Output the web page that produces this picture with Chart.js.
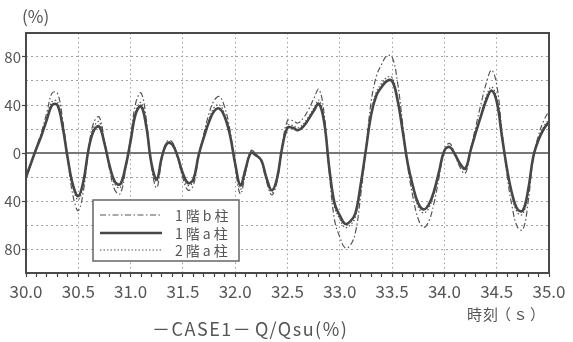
<!DOCTYPE html>
<html>
<head>
<meta charset="utf-8">
<script src="https://cdn.jsdelivr.net/npm/chart.js@4.4.0/dist/chart.umd.min.js"></script>
<style>
  html, body { margin: 0; padding: 0; background: #fff; }
  #wrap { width: 573px; height: 342px; }
</style>
</head>
<body>
<div id="wrap"><canvas id="chart" width="573" height="342"></canvas></div>
<script>
// 時刻 (s)
const times = [
  30.00, 30.05, 30.10, 30.15, 30.20, 30.25, 30.30, 30.35, 30.40, 30.45,
  30.50, 30.55, 30.60, 30.65, 30.70, 30.75, 30.80, 30.85, 30.90, 30.95,
  31.00, 31.05, 31.10, 31.15, 31.20, 31.25, 31.30, 31.35, 31.40, 31.45,
  31.50, 31.55, 31.60, 31.65, 31.70, 31.75, 31.80, 31.85, 31.90, 31.95,
  32.00, 32.05, 32.10, 32.15, 32.20, 32.25, 32.30, 32.35, 32.40, 32.45,
  32.50, 32.55, 32.60, 32.65, 32.70, 32.75, 32.80, 32.85, 32.90, 32.95,
  33.00, 33.05, 33.10, 33.15, 33.20, 33.25, 33.30, 33.35, 33.40, 33.45,
  33.50, 33.55, 33.60, 33.65, 33.70, 33.75, 33.80, 33.85, 33.90, 33.95,
  34.00, 34.05, 34.10, 34.15, 34.20, 34.25, 34.30, 34.35, 34.40, 34.45,
  34.50, 34.55, 34.60, 34.65, 34.70, 34.75, 34.80, 34.85, 34.90, 34.95,
  35.00
];

// 1階b柱 (一点鎖線)
const col1b = [
  -22, -9, 5, 18, 34, 50, 50, 28, -6, -36,
  -48, -31, 5, 26, 30, 10, -14, -31, -34, -15,
  13, 42, 50, 28, -12, -29, -4, 10, 9, -4,
  -21, -31, -27, -3, 16, 33, 44, 47, 38, 19,
  -11, -34, -16, 2, -1, -7, -24, -35, -24, 6,
  27, 27, 25, 29, 36, 45, 53, 33, -17, -56,
  -70, -79, -77, -66, -35, 4, 43, 64, 74, 81,
  80, 60, 25, -12, -37, -55, -62, -57, -42, -20,
  3, 8, -1, -12, -17, 3, 22, 41, 58, 69,
  57, 18, -19, -46, -62, -64, -41, -4, 15, 27,
  35
];

// 1階a柱 (実線)
const col1a = [
  -20, -8, 4, 15, 28, 40, 40, 22, -5, -27,
  -36, -23, 4, 19, 22, 8, -11, -24, -26, -12,
  10, 33, 39, 22, -9, -22, -3, 8, 7, -3,
  -17, -25, -22, -2, 13, 26, 35, 37, 30, 15,
  -9, -27, -13, 0, -2, -6, -21, -31, -21, 5,
  21, 21, 19, 22, 28, 35, 41, 26, -13, -42,
  -52, -59, -57, -50, -26, 3, 32, 48, 55, 60,
  60, 45, 19, -9, -28, -42, -47, -43, -32, -15,
  2, 5, -1, -9, -13, 2, 17, 31, 44, 52,
  43, 14, -14, -35, -47, -48, -31, -3, 11, 20,
  26
];

// 2階a柱 (点線)
const col2a = [
  -21, -8, 4, 16, 30, 43, 43, 24, -5, -29,
  -39, -25, 4, 22, 26, 9, -12, -26, -29, -13,
  11, 35, 42, 24, -10, -24, -3, 9, 8, -3,
  -19, -27, -24, -2, 14, 28, 38, 40, 32, 16,
  -10, -30, -14, 1, -2, -7, -23, -33, -22, 5,
  23, 23, 21, 24, 30, 37, 44, 28, -14, -45,
  -55, -62, -60, -53, -28, 3, 34, 51, 58, 63,
  63, 47, 20, -10, -30, -45, -50, -46, -34, -16,
  2, 5, -1, -10, -14, 2, 18, 33, 47, 55,
  46, 15, -15, -37, -50, -51, -33, -3, 12, 22,
  28
];

const xMajor = [30.0, 30.5, 31.0, 31.5, 32.0, 32.5, 33.0, 33.5, 34.0, 34.5, 35.0];
const yLabels = [80, 40, 0, -40, -80];

const FONT = "'Noto Sans CJK JP', 'Noto Sans', sans-serif";
const INK = '#555';

function pts(vals) {
  return vals.map((v, i) => ({ x: times[i], y: v }));
}
function isMajor(v) {
  return xMajor.some(m => Math.abs(m - v) < 1e-6);
}

const decor = {
  id: 'decor',
  beforeDatasetsDraw(chart) {
    const { ctx, chartArea: a, scales: { y } } = chart;
    const y0 = y.getPixelForValue(0);
    ctx.save();
    ctx.strokeStyle = '#4a4a4a';
    ctx.lineWidth = 1.6;
    ctx.beginPath();
    ctx.moveTo(a.left, y0);
    ctx.lineTo(a.right, y0);
    ctx.stroke();
    ctx.restore();
  },
  afterDraw(chart) {
    const { ctx, chartArea: a } = chart;
    ctx.save();
    // 枠
    ctx.strokeStyle = '#4a4a4a';
    ctx.lineWidth = 2;
    ctx.strokeRect(a.left, a.top, a.right - a.left, a.bottom - a.top);

    // 凡例
    ctx.fillStyle = '#fff';
    ctx.fillRect(93, 200, 146, 61);
    ctx.strokeStyle = '#666';
    ctx.lineWidth = 1.5;
    ctx.strokeRect(93, 200, 146, 61);
    const rows = [215, 233, 250];
    [0, 1, 2].forEach((di, k) => {
      const ds = chart.data.datasets[di];
      ctx.strokeStyle = ds.borderColor;
      ctx.lineWidth = ds.borderWidth;
      ctx.setLineDash(ds.borderDash || []);
      ctx.beginPath();
      ctx.moveTo(100, rows[k]);
      ctx.lineTo(162, rows[k]);
      ctx.stroke();
      ctx.setLineDash([]);
      ctx.fillStyle = INK;
      ctx.font = '14px ' + FONT;
      ctx.letterSpacing = '3px';
      ctx.textBaseline = 'middle';
      ctx.textAlign = 'left';
      ctx.fillText(ds.label, 175, rows[k] + 1);
    });
    ctx.letterSpacing = '0px';

    // 文字
    ctx.fillStyle = INK;
    ctx.textBaseline = 'middle';
    ctx.font = '17px ' + FONT;
    ctx.fillText('(%)', 22, 17);

    ctx.font = '15px ' + FONT;
    ctx.letterSpacing = '1px';
    ctx.fillText('時刻', 467, 314);
    ctx.letterSpacing = '2px';
    ctx.fillText('（ｓ）', 496, 314);

    ctx.font = '18px ' + FONT;
    ctx.letterSpacing = '1.5px';
    ctx.fillText('－CASE1－', 152, 329);
    ctx.fillText('Q/Qsu(%)', 255, 329);
    ctx.letterSpacing = '0px';
    ctx.restore();
  }
};

const ctx = document.getElementById('chart').getContext('2d');
const chart = new Chart(ctx, {
  type: 'line',
  data: {
    datasets: [
      {
        label: '1階b柱',
        data: pts(col1b),
        borderColor: '#555',
        borderWidth: 1.2,
        borderDash: [6, 2.5, 1.5, 2.5],
        order: 2
      },
      {
        label: '1階a柱',
        data: pts(col1a),
        borderColor: '#474747',
        borderWidth: 2.6,
        order: 0
      },
      {
        label: '2階a柱',
        data: pts(col2a),
        borderColor: '#555',
        borderWidth: 1.2,
        borderDash: [1.5, 2],
        order: 1
      }
    ]
  },
  options: {
    responsive: false,
    animation: false,
    devicePixelRatio: 1,
    layout: { padding: { left: 0, right: 24, top: 33, bottom: 0 } },
    elements: {
      point: { radius: 0 },
      line: { tension: 0.4, fill: false }
    },
    plugins: {
      legend: { display: false },
      tooltip: { enabled: false },
      title: { display: false }
    },
    scales: {
      x: {
        type: 'linear',
        min: 30,
        max: 35,
        afterFit: s => { s.height = 69; },
        border: { display: false, dash: [1.5, 3] },
        grid: {
          color: c => (isMajor(c.tick.value) && c.tick.value > 30 && c.tick.value < 35) ? '#a0a0a0' : 'rgba(0,0,0,0)',
          lineWidth: 1,
          tickColor: '#444',
          tickLength: 4,
          tickWidth: 1.2
        },
        ticks: {
          stepSize: 0.1,
          autoSkip: false,
          maxRotation: 0,
          padding: 4,
          color: INK,
          font: { family: FONT, size: 17 },
          callback: v => isMajor(v) ? Number(v).toFixed(1) : ''
        }
      },
      y: {
        min: -100,
        max: 100,
        afterFit: s => { s.width = 26; },
        border: { display: false, dash: [2, 3] },
        grid: {
          color: c => (c.tick.value === 0 || Math.abs(c.tick.value) === 100) ? 'rgba(0,0,0,0)' : '#a0a0a0',
          lineWidth: 1,
          tickColor: c => yLabels.includes(c.tick.value) ? '#444' : 'rgba(0,0,0,0)',
          tickLength: 4,
          tickWidth: 1.2
        },
        ticks: {
          stepSize: 20,
          padding: 1,
          color: INK,
          font: { family: FONT, size: 15 },
          callback: v => yLabels.includes(v) ? String(Math.abs(v)) : ''
        }
      }
    }
  },
  plugins: [decor]
});
</script>
</body>
</html>
